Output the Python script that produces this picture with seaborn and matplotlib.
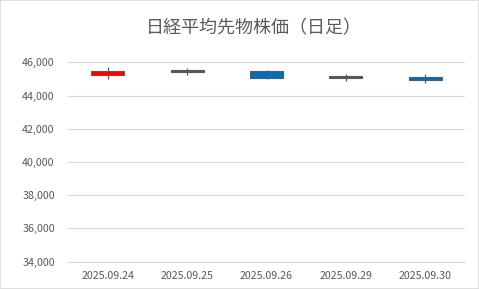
import matplotlib
matplotlib.use("Agg")
import matplotlib.pyplot as plt
import seaborn as sns
import pandas as pd
from matplotlib.ticker import FuncFormatter, MultipleLocator
from matplotlib.patches import Rectangle

# ---- data ----
dates = ["2025.09.24", "2025.09.25", "2025.09.26", "2025.09.29", "2025.09.30"]
opens = [45254, 45515, 45458, 45155, 45097]
closes = [45477, 45435, 45073, 45075, 44953]
highs = [45735, 45657, 45555, 45296, 45296]
lows = [44977, 45254, 45013, 44893, 44773]
title = "日経平均先物株価（日足）"

df = pd.DataFrame({"date": dates, "open": opens, "close": closes,
                   "high": highs, "low": lows})
df["bottom"] = df[["open", "close"]].min(axis=1)
df["height"] = (df["close"] - df["open"]).abs()
UP, DOWN, EDGE = "#FF0000", "#0070C0", "#595959"
df["color"] = [UP if c >= o else DOWN for o, c in zip(df["open"], df["close"])]

sns.set_theme(style="white")
plt.rcParams["font.family"] = ["Noto Sans CJK JP", "DejaVu Sans"]

fig = plt.figure(figsize=(4.79, 2.89), dpi=100)
ax = fig.add_axes([68 / 479, 1 - 261.7 / 289, 397 / 479, (261.7 - 62.3) / 289])

# wicks
ax.vlines(df["date"], df["low"], df["high"], color=EDGE, lw=0.9, zorder=2)
# bodies
ax.bar(df["date"], df["height"], bottom=df["bottom"], width=0.415,
       color=df["color"], edgecolor=EDGE, linewidth=0.8, zorder=3)

ax.set_xlim(-0.5, len(dates) - 0.5)
ax.set_ylim(34000, 46000)
ax.yaxis.set_major_locator(MultipleLocator(2000))
ax.yaxis.set_major_formatter(FuncFormatter(lambda v, p: f"{v:,.0f}"))
ax.grid(axis="y", color="#D9D9D9", lw=0.8, zorder=0)
ax.set_axisbelow(True)

sns.despine(ax=ax, left=True, top=True, right=True)
ax.spines["bottom"].set_color("#D9D9D9")
ax.spines["bottom"].set_linewidth(0.8)
ax.tick_params(axis="both", length=0, labelsize=7.7, colors="#595959")
ax.tick_params(axis="y", pad=9.5)
ax.tick_params(axis="x", pad=7)
ax.set_xlabel("")
ax.set_ylabel("")

fig.text(254 / 479, 1 - 28.5 / 289, title, ha="center", va="center",
         fontsize=13, color="#595959")

fig.patches.append(Rectangle((0, 0), 1, 1, transform=fig.transFigure,
                             fill=False, edgecolor="#D9D9D9", lw=1.2))

fig.savefig("out.png", dpi=100)
